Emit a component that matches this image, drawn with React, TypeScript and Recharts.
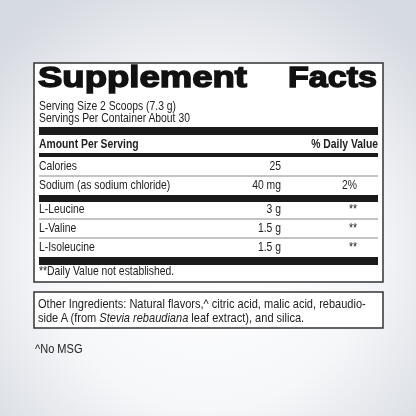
import React from "react";
import { Surface, Layer, Rectangle } from "recharts";

const W = 416;
const H = 416;

const servingInfo = ["Serving Size 2 Scoops (7.3 g)", "Servings Per Container About 30"];
const headerLabels = ["Amount Per Serving", "% Daily Value"];

const basicNames = ["Calories", "Sodium (as sodium chloride)"];
const basicAmounts = ["25", "40 mg"];
const basicDV = ["", "2%"];

const aminoNames = ["L-Leucine", "L-Valine", "L-Isoleucine"];
const aminoAmounts = ["3 g", "1.5 g", "1.5 g"];
const aminoDV = ["**", "**", "**"];

const footnote = "**Daily Value not established.";
const noMsg = "^No MSG";

const FONT = "'Liberation Sans', Arial, Helvetica, sans-serif";
const INK = "#222";
const SX = 0.85; // fake a condensed face

// panel geometry
const BOX_X = 34;
const BOX_Y = 63;
const BOX_R = 383;
const BOX_B = 282;
const IN_L = 39;
const IN_R = 378;
const AMT_X = 281;
const DV_X = 357;
const ROW_H = 19;

function Label({ x, y, children, anchor = "start", bold = false, size = 12.2 }: any) {
  return (
    <text
      transform={`translate(${x},${y}) scale(${SX},1)`}
      textAnchor={anchor}
      fontFamily={FONT}
      fontSize={size}
      fontWeight={bold ? 700 : 400}
      fill={INK}
    >
      {children}
    </text>
  );
}

function Row({ y, name, amount, dv, line }: any) {
  return (
    <Layer>
      <Label x={IN_L} y={y}>{name}</Label>
      <Label x={AMT_X} y={y} anchor="end">{amount}</Label>
      {dv ? <Label x={DV_X} y={y} anchor="end">{dv}</Label> : null}
      {line ? <Rectangle x={IN_L} y={y + 5.5} width={IN_R - IN_L} height={1} fill="#8a8a8a" /> : null}
    </Layer>
  );
}

export default function App() {
  const basicTop = 170;
  const aminoTop = 213;
  return (
    <div style={{ position: "fixed", left: 0, top: 0, width: W, height: H }}>
      <Surface width={W} height={H} viewBox={{ x: 0, y: 0, width: W, height: H }}>
        <defs>
          <radialGradient id="bg" cx="50%" cy="60%" r="70%">
            <stop offset="0%" stopColor="#ffffff" />
            <stop offset="55%" stopColor="#f6f7f9" />
            <stop offset="100%" stopColor="#d6dae1" />
          </radialGradient>
        </defs>
        <rect x={0} y={0} width={W} height={H} fill="url(#bg)" />

        {/* facts panel */}
        <Rectangle
          x={BOX_X}
          y={BOX_Y}
          width={BOX_R - BOX_X}
          height={BOX_B - BOX_Y}
          fill="#fff"
          stroke="#333"
          strokeWidth={1.5}
        />
        <text
          x={IN_L - 1}
          y={87}
          fontFamily="'Liberation Sans', Arial, sans-serif"
          fontWeight={900}
          fontSize={29}
          fill="#111"
          stroke="#111"
          strokeWidth={1.4}
          textLength={209}
          lengthAdjust="spacingAndGlyphs"
        >
          Supplement
        </text>
        <text
          x={288}
          y={87}
          fontFamily="'Liberation Sans', Arial, sans-serif"
          fontWeight={900}
          fontSize={29}
          fill="#111"
          stroke="#111"
          strokeWidth={1.4}
          textLength={89}
          lengthAdjust="spacingAndGlyphs"
        >
          Facts
        </text>
        {servingInfo.map((s, i) => (
          <Label key={s} x={IN_L} y={110 + i * 12}>{s}</Label>
        ))}
        <Rectangle x={IN_L} y={127} width={IN_R - IN_L} height={8} fill="#1a1a1a" />
        <Label x={IN_L} y={148} bold>{headerLabels[0]}</Label>
        <Label x={IN_R} y={148} bold anchor="end">{headerLabels[1]}</Label>
        <Rectangle x={IN_L} y={153} width={IN_R - IN_L} height={4} fill="#1a1a1a" />

        {basicNames.map((n, i) => (
          <Row
            key={n}
            y={basicTop + i * ROW_H}
            name={n}
            amount={basicAmounts[i]}
            dv={basicDV[i]}
            line={i < basicNames.length - 1}
          />
        ))}
        <Rectangle x={IN_L} y={195} width={IN_R - IN_L} height={7} fill="#1a1a1a" />

        {aminoNames.map((n, i) => (
          <Row
            key={n}
            y={aminoTop + i * ROW_H}
            name={n}
            amount={aminoAmounts[i]}
            dv={aminoDV[i]}
            line={i < aminoNames.length - 1}
          />
        ))}
        <Rectangle x={IN_L} y={257} width={IN_R - IN_L} height={8} fill="#1a1a1a" />
        <Label x={IN_L} y={275}>{footnote}</Label>

        {/* other ingredients */}
        <Rectangle x={BOX_X} y={292} width={BOX_R - BOX_X} height={36} fill="#fff" stroke="#333" strokeWidth={1.5} />
        <Label x={IN_L - 1} y={307.5} size={13}>
          Other Ingredients: Natural flavors,^ citric acid, malic acid, rebaudio-
        </Label>
        <Label x={IN_L - 1} y={321.5} size={13}>
          side A (from <tspan fontStyle="italic">Stevia rebaudiana</tspan> leaf extract), and silica.
        </Label>

        <Label x={35} y={353} size={13}>{noMsg}</Label>
      </Surface>
    </div>
  );
}
